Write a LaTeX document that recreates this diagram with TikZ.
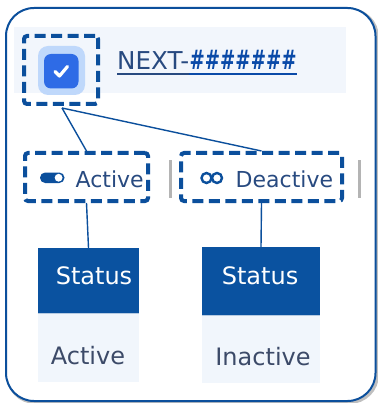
\documentclass[tikz,border=0pt]{standalone}
\usepackage{fontspec}
\setmainfont{DejaVu Sans}
\usetikzlibrary{calc}
\definecolor{navy}{HTML}{0B4F9C}
\definecolor{band}{HTML}{F2F6FC}
\definecolor{halo}{HTML}{BFD8FB}
\definecolor{cbblue}{HTML}{2E6BE6}
\definecolor{txtblue}{HTML}{284A80}
\definecolor{hashblue}{HTML}{0A4AA8}
\definecolor{hdr}{HTML}{0A52A0}
\definecolor{cell}{HTML}{F1F6FC}
\definecolor{celltxt}{HTML}{3C4A68}
\definecolor{sep}{HTML}{B4B4B4}
\tikzset{
  dbox/.style={draw=navy, line width=4pt, dash pattern=on 11pt off 5.5pt, rounded corners=3pt, inner sep=0pt, fill=none},
  conn/.style={draw=navy, line width=1.4pt},
  hdrbox/.style={fill=hdr, inner sep=0pt},
  cellbox/.style={fill=cell, inner sep=0pt},
  big/.style={font=\fontsize{24}{28}\selectfont},
  mid/.style={font=\fontsize{22}{26}\selectfont},
}
\begin{document}
\begin{tikzpicture}[x=1pt,y=-1pt]
\useasboundingbox (0,0) rectangle (377,403);
% frame with faint shadow
\draw[black!25, line width=3pt, rounded corners=28pt] (7.5,9.5) rectangle (377.5,402.5);
\draw[navy, line width=2pt, fill=white, rounded corners=28pt] (6,8) rectangle (375.5,401);
% top band
\fill[band] (14,27) rectangle (346,93);
% checkbox
\fill[halo, rounded corners=10pt] (38,46) rectangle (85,95);
\fill[cbblue, rounded corners=7pt] (44,54) rectangle (78.5,88.5);
\draw[white, line width=3.2pt, line cap=round, line join=round] (55,71.5) -- (59.5,76) -- (67.5,66.5);
\node[dbox, minimum width=74pt, minimum height=68pt] (cb) at (61,70) {};
% NEXT-#######
\node[font=\fontsize{24.6}{28}\selectfont, anchor=base west, inner sep=0pt, text=txtblue] (nx) at (117,69.5) {NEXT-};
\node[big, anchor=base west, inner sep=0pt, text=hashblue] (hs) at (nx.base east) {\scalebox{0.76}[1.12]{\bfseries\#\#\#\#\#\#\#}};
\draw[txtblue, line width=1.4pt] (nx.west |- 0,74) -- (nx.east |- 0,74);
\draw[hashblue, line width=2.2pt] (hs.west |- 0,74) -- (hs.east |- 0,74);
% row 2
\node[dbox, minimum width=123pt, minimum height=48pt] (act) at (86.5,177) {};
\node[dbox, minimum width=161pt, minimum height=48pt] (deact) at (261.5,177) {};
\fill[navy, rounded corners=5.2pt] (40,172.5) rectangle (64.5,183);
\fill[white] (58.6,177.75) circle (3.9pt);
\draw[navy, line width=2.4pt] (206.5,178) circle (5pt);
\draw[navy, line width=2.4pt] (217,178) circle (5pt);
\node[mid, anchor=base west, inner sep=0pt, text=txtblue] (acttxt) at (75.5,187) {Active};
\node[mid, anchor=base west, inner sep=0pt, text=txtblue] (deacttxt) at (235.5,187) {Deactive};
\fill[sep] (168.8,160) rectangle (171.5,198);
\fill[sep] (357.8,160) rectangle (360.5,198);
% tables
\node[hdrbox, minimum width=101pt, minimum height=65pt] (h1) at (88.5,280.5) {};
\node[cellbox, minimum width=101pt, minimum height=69pt] (c1) at (88.5,347.5) {};
\node[hdrbox, minimum width=118pt, minimum height=68pt] (h2) at (261,281) {};
\node[cellbox, minimum width=118pt, minimum height=68pt] (c2) at (261,349) {};
\draw[white!70!hdr, line width=0.8pt] (h1.south west) -- (h1.south east);
\draw[white!70!hdr, line width=0.8pt] (h2.south west) -- (h2.south east);
\node[big, anchor=base, inner sep=0pt, text=white] (s1) at (94,284) {Status};
\node[big, anchor=base, inner sep=0pt, text=white] (s2) at (260,284) {Status};
\node[big, anchor=base, inner sep=0pt, text=celltxt] (v1) at (88,364) {Active};
\node[big, anchor=base, inner sep=0pt, text=celltxt] (v2) at (263,365) {Inactive};
% connectors
\draw[conn] ($(cb.south)+(1,2)$) -- (act.north);
\draw[conn] ($(cb.south)+(1,2)$) -- (deact.north);
\draw[conn] (act.south) -- (h1.north);
\draw[conn] (deact.south) -- (h2.north);
\end{tikzpicture}
\end{document}
